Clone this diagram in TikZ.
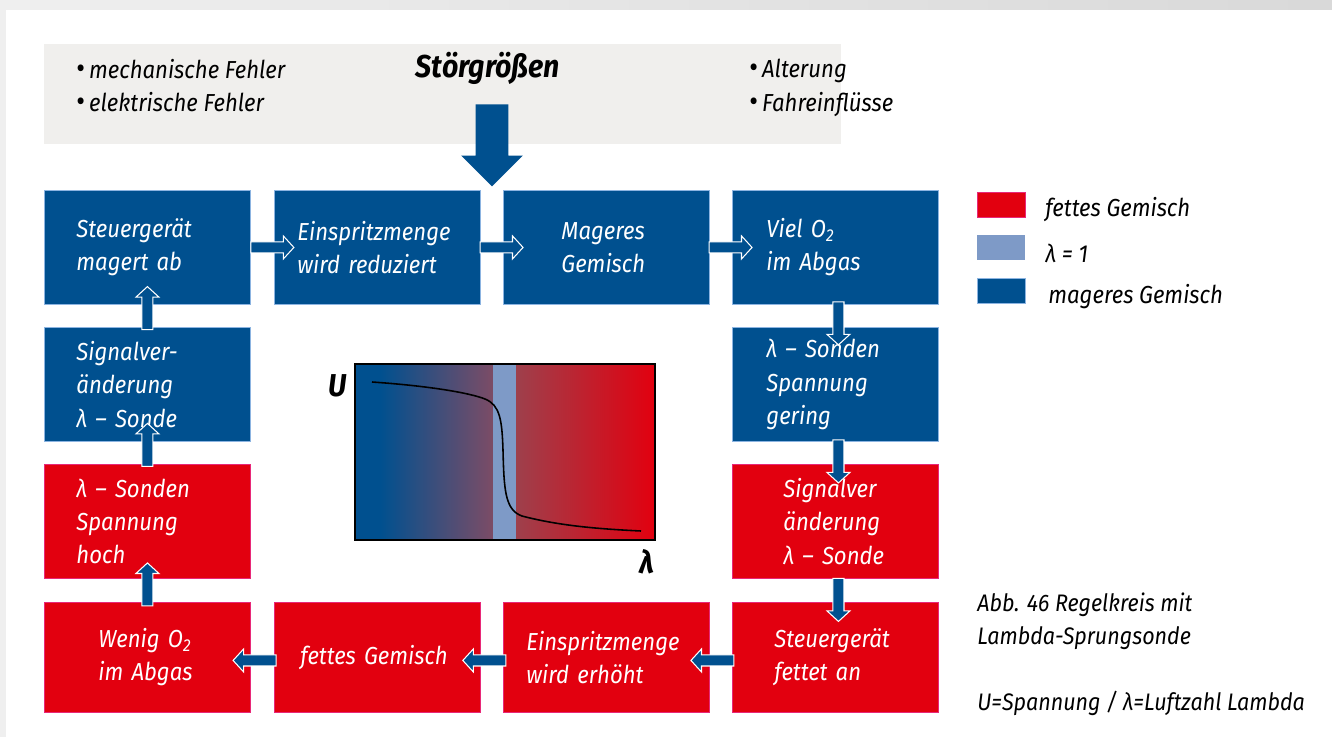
\documentclass[tikz,border=0pt]{standalone}
\usepackage{fontspec}
\setmainfont{Fira Sans}[FakeStretch=0.9]
\usepackage{xcolor}
\usetikzlibrary{shapes.arrows}

\definecolor{magerblau}{RGB}{0,80,143}
\definecolor{fettrot}{RGB}{226,0,15}
\definecolor{lambdablau}{RGB}{126,154,199}
\definecolor{bandgrau}{RGB}{240,239,237}
\definecolor{randblau}{RGB}{140,180,225}
\definecolor{randrot}{RGB}{232,40,120}
\definecolor{rahmengrau}{RGB}{239,239,239}
\definecolor{mauve}{RGB}{124,76,102}
\definecolor{rosa}{RGB}{158,64,76}

\newcommand{\punkt}{{\fontsize{17}{17}\selectfont\upshape •}\,}

\begin{document}
\begin{tikzpicture}[
		x=0.2mm, y=-0.2mm,
		every node/.style={font=\itshape\fontsize{14}{18.9}\selectfont, inner sep=0pt},
		box/.style={anchor=north west, minimum width=41.2mm, minimum height=22.8mm,
				text=white, align=left, text width=#1},
		mager/.style={box=#1, fill=magerblau, draw=randblau, line width=0.5pt}, % lean mixture
		fett/.style={box=#1, fill=fettrot, draw=randrot, line width=0.5pt},     % rich mixture
		flow/.style={single arrow, draw=white, fill=magerblau, line width=0.6pt,
				inner xsep=0pt, inner ysep=1mm, minimum height=8.6mm,
				single arrow head extend=1.2mm, single arrow tip angle=95,
				sloped, allow upside down},
		bigarr/.style={single arrow, fill=magerblau, inner xsep=0pt, inner ysep=3.2mm,
				minimum height=16.4mm, single arrow head extend=2.9mm,
				single arrow tip angle=90, sloped, allow upside down},
		legbox/.style={anchor=north west, minimum width=9.6mm, minimum height=5mm},
	]
	\useasboundingbox (0,0) rectangle (1332,737);

	% --- page background
	\fill[rahmengrau] (0,0) rectangle (1332,737);
	\shade[left color=rahmengrau, right color=black!15] (0,0) rectangle (1332,10);
	\fill[white] (6,10) rectangle (1332,737);

	% --- disturbances
	\node[anchor=north west, minimum width=159.4mm, minimum height=20mm, fill=bandgrau]
	(stoerband) at (44,44) {};
	\node[font=\bfseries\itshape\fontsize{18}{20}\selectfont] (stoertitel) at (488,68) {Störgrößen};
	\node[anchor=north west, align=left] (fehler) at (76,59) {\punkt mechanische Fehler\\\punkt elektrische Fehler};
	\node[anchor=north west, align=left] (einfluss) at (749,59) {\punkt Alterung\\\punkt Fahreinflüsse};
	\coordinate (einlass) at (492,190);

	% --- control loop: upper row and right column
	\node[mager=28.4mm] (steuerab) at (44,190) {Steuergerät\\magert~ab};
	\node[mager=32mm] (einsred) at (274,190) {Einspritzmenge\\wird~reduziert};
	\node[mager=18mm] (mageres) at (503,190) {Mageres\\Gemisch};
	\node[mager=27.6mm] (vielo) at (732,190) {Viel~O\textsubscript{2}\\im~Abgas};
	\node[mager=27.6mm] (sondegering) at (732,327) {λ~–~Sonden\\Spannung\\gering};
	\node[fett=20.8mm] (signalre) at (732,464) {Signalver\\änderung\\λ~–~Sonde};

	% --- lower row and left column
	\node[fett=24.4mm, minimum height=22mm] (steueran) at (732,602) {Steuergerät\\fettet~an};
	\node[fett=32mm, minimum height=22mm] (einserh) at (503,602) {Einspritzmenge\\wird~erhöht};
	\node[fett=30.8mm, minimum height=22mm] (fettes) at (274,602) {fettes~Gemisch};
	\node[fett=19.6mm, minimum height=22mm] (wenigo) at (44,602) {Wenig~O\textsubscript{2}\\im~Abgas};
	\node[fett=28.4mm] (sondehoch) at (44,464) {λ~–~Sonden\\Spannung\\hoch};
	\node[mager=28.4mm] (signalli) at (44,327) {Signalver-\\änderung\\λ~–~Sonde};

	% --- block arrows
	\path (stoertitel.south -| einlass) -- (einlass) node[bigarr, pos=0.5] {};
	\foreach \a/\b/\p in {steuerab/einsred/0.82, einsred/mageres/0.82, mageres/vielo/0.82}
		\path (\a.east) -- (\b.west) node[flow, pos=\p] {};
	\foreach \a/\b/\p in {vielo/sondegering/0.72, sondegering/signalre/0.77, signalre/steueran/0.8}
		\path ([xshift=0.6mm]\a.south) -- ([xshift=0.6mm]\b.north) node[flow, pos=\p] {};
	\foreach \a/\b/\p in {steueran/einserh/0.77, einserh/fettes/0.73, fettes/wenigo/0.73}
		\path ([yshift=-0.6mm]\a.west) -- ([yshift=-0.6mm]\b.east) node[flow, pos=\p] {};
	\foreach \a/\b/\p in {wenigo/sondehoch/0.65, sondehoch/signalli/0.75, signalli/steuerab/0.74}
		\path (\a.north) -- (\b.south) node[flow, pos=\p] {};

	% --- sensor characteristic
	\fill[magerblau] (355,364) rectangle (381,540);
	\shade[left color=magerblau, right color=mauve] (380,364) rectangle (493,540);
	\fill[lambdablau] (493,364) rectangle (516,540);
	\shade[left color=rosa, right color=fettrot] (516,364) rectangle (655,540);
	\draw[line width=1.2pt] (355,364) rectangle (655,540);
	\draw[line width=0.9pt] (372,382) .. controls (430,386) and (470,393) .. (485,399)
	.. controls (500,405) and (502,420) .. (503,450)
	.. controls (504,490) and (505,510) .. (522,516)
	.. controls (560,526) and (600,529) .. (641,531);
	\node[font=\bfseries\itshape\fontsize{18}{20}\selectfont] (achseU) at (338,386) {U};
	\node[font=\bfseries\itshape\fontsize{18}{20}\selectfont] (achseL) at (647,562) {λ};

	% --- legend
	\node[legbox, fill=fettrot, draw=randrot] (legfett) at (977,192) {};
	\node[legbox, fill=lambdablau] (leglambda) at (977,235) {};
	\node[legbox, fill=magerblau, draw=randblau] (legmager) at (977,278) {};
	\node[anchor=west] (txtfett) at (1045,210) {fettes Gemisch};
	\node[anchor=west] (txtlambda) at (1045,253) {λ = 1};
	\node[anchor=west] (txtmager) at (1048,297) {mageres Gemisch};

	% --- caption
	\node[anchor=north west, align=left, font=\itshape\fontsize{13.6}{18.9}\selectfont] (abb) at (977,592)
	{Abb. 46 Regelkreis mit\\Lambda-Sprungsonde\\[18.9pt]U=Spannung / λ=Luftzahl Lambda};
\end{tikzpicture}
\end{document}
